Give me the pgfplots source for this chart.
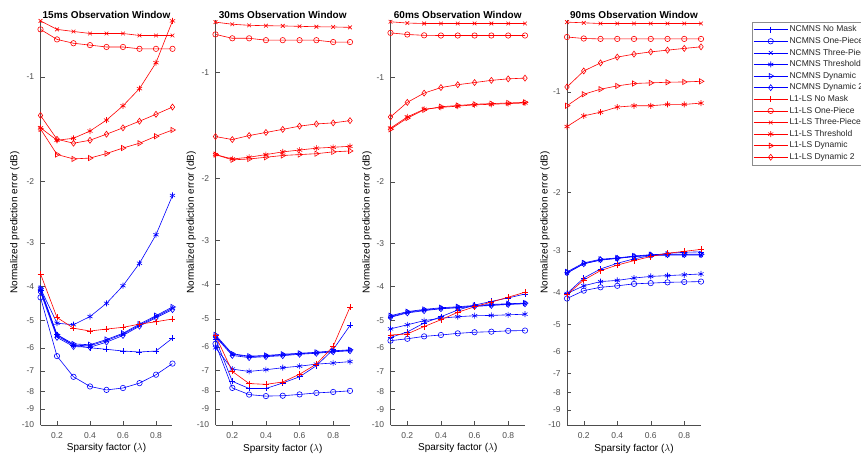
\documentclass[border=0pt]{standalone}
\usepackage{fontspec}
\setmainfont{Liberation Sans}
\usepackage{pgfplots}
\usepackage{pgfplotstable}
\pgfplotsset{compat=1.18}

% columns: lambda, then NCMNS and L1-LS series (values in dB)
\pgfplotstableread{
lam ncNo nc1P nc3P ncThr ncDyn ncDyn2 lsNo ls1P ls3P lsThr lsDyn lsDyn2
0.1 -4.10 -4.30 -4.10 -4.05 -4.05 -4.15 -3.68 -0.73 -0.69 -1.40 -1.41 -1.29
0.2 -5.50 -6.34 -5.55 -5.10 -5.50 -5.60 -4.91 -0.78 -0.73 -1.52 -1.67 -1.51
0.3 -5.90 -7.27 -5.90 -5.15 -5.85 -5.95 -5.27 -0.80 -0.74 -1.50 -1.72 -1.55
0.4 -6.00 -7.75 -5.92 -4.88 -5.88 -5.98 -5.37 -0.81 -0.75 -1.43 -1.71 -1.52
0.5 -6.06 -7.93 -5.72 -4.47 -5.68 -5.78 -5.30 -0.82 -0.75 -1.33 -1.66 -1.46
0.6 -6.13 -7.83 -5.48 -3.98 -5.45 -5.53 -5.24 -0.82 -0.75 -1.21 -1.60 -1.40
0.7 -6.17 -7.58 -5.17 -3.43 -5.13 -5.20 -5.13 -0.83 -0.76 -1.08 -1.55 -1.34
0.8 -6.13 -7.17 -4.88 -2.84 -4.85 -4.92 -5.05 -0.83 -0.76 -0.91 -1.48 -1.28
0.9 -5.63 -6.66 -4.62 -2.19 -4.58 -4.66 -4.96 -0.83 -0.76 -0.69 -1.42 -1.22
}\tabA
\pgfplotstableread{
lam ncNo nc1P nc3P ncThr ncDyn ncDyn2 lsNo ls1P ls3P lsThr lsDyn lsDyn2
0.1 -5.70 -5.88 -5.60 -6.04 -5.55 -5.62 -5.58 -0.78 -0.72 -1.71 -1.71 -1.52
0.2 -7.52 -7.85 -6.30 -6.94 -6.28 -6.35 -7.05 -0.80 -0.73 -1.76 -1.77 -1.55
0.3 -7.88 -8.20 -6.40 -7.05 -6.38 -6.44 -7.63 -0.80 -0.735 -1.74 -1.76 -1.51
0.4 -7.88 -8.28 -6.37 -6.97 -6.35 -6.40 -7.67 -0.81 -0.737 -1.71 -1.74 -1.48
0.5 -7.60 -8.26 -6.33 -6.88 -6.30 -6.36 -7.55 -0.81 -0.738 -1.68 -1.72 -1.45
0.6 -7.30 -8.19 -6.28 -6.81 -6.26 -6.30 -7.18 -0.81 -0.74 -1.66 -1.71 -1.42
0.7 -6.79 -8.11 -6.24 -6.72 -6.22 -6.26 -6.72 -0.81 -0.742 -1.64 -1.70 -1.40
0.8 -6.11 -8.06 -6.18 -6.67 -6.16 -6.20 -5.98 -0.82 -0.743 -1.63 -1.68 -1.39
0.9 -5.22 -8.00 -6.14 -6.61 -6.12 -6.16 -4.63 -0.82 -0.745 -1.62 -1.67 -1.37
}\tabB
\pgfplotstableread{
lam ncNo nc1P nc3P ncThr ncDyn ncDyn2 lsNo ls1P ls3P lsThr lsDyn lsDyn2
0.1 -5.60 -5.72 -4.88 -5.29 -4.85 -4.90 -5.51 -0.745 -0.692 -1.40 -1.41 -1.30
0.2 -5.40 -5.65 -4.74 -5.15 -4.72 -4.76 -5.47 -0.753 -0.698 -1.30 -1.31 -1.18
0.3 -5.09 -5.56 -4.67 -5.01 -4.65 -4.69 -5.21 -0.757 -0.70 -1.235 -1.24 -1.11
0.4 -4.88 -5.51 -4.62 -4.93 -4.60 -4.63 -4.98 -0.758 -0.70 -1.22 -1.215 -1.07
0.5 -4.67 -5.45 -4.59 -4.88 -4.57 -4.60 -4.74 -0.758 -0.70 -1.21 -1.205 -1.05
0.6 -4.52 -5.41 -4.55 -4.85 -4.53 -4.56 -4.57 -0.758 -0.70 -1.20 -1.195 -1.035
0.7 -4.41 -5.39 -4.52 -4.84 -4.50 -4.53 -4.43 -0.758 -0.70 -1.195 -1.19 -1.02
0.8 -4.31 -5.36 -4.49 -4.82 -4.48 -4.50 -4.29 -0.758 -0.70 -1.19 -1.185 -1.01
0.9 -4.20 -5.35 -4.47 -4.80 -4.46 -4.48 -4.15 -0.758 -0.70 -1.185 -1.18 -1.005
}\tabC
\pgfplotstableread{
lam ncNo nc1P nc3P ncThr ncDyn ncDyn2 lsNo ls1P ls3P lsThr lsDyn lsDyn2
0.1 -4.03 -4.17 -3.50 -4.03 -3.47 -3.49 -4.06 -0.684 -0.617 -1.27 -1.10 -0.966
0.2 -3.62 -3.95 -3.28 -3.82 -3.26 -3.28 -3.67 -0.691 -0.620 -1.18 -1.016 -0.865
0.3 -3.40 -3.86 -3.20 -3.71 -3.18 -3.19 -3.44 -0.693 -0.623 -1.15 -0.981 -0.818
0.4 -3.27 -3.82 -3.16 -3.68 -3.15 -3.16 -3.31 -0.693 -0.623 -1.11 -0.959 -0.786
0.5 -3.17 -3.77 -3.12 -3.62 -3.11 -3.12 -3.21 -0.693 -0.623 -1.10 -0.943 -0.770
0.6 -3.10 -3.75 -3.10 -3.58 -3.08 -3.09 -3.12 -0.693 -0.623 -1.10 -0.939 -0.758
0.7 -3.05 -3.73 -3.09 -3.56 -3.07 -3.08 -3.05 -0.693 -0.623 -1.09 -0.935 -0.749
0.8 -3.03 -3.72 -3.09 -3.54 -3.07 -3.08 -3.01 -0.693 -0.623 -1.09 -0.933 -0.740
0.9 -3.02 -3.71 -3.09 -3.52 -3.07 -3.08 -2.97 -0.693 -0.623 -1.08 -0.929 -0.732
}\tabD

\definecolor{axgray}{HTML}{4D4D4D}

\pgfplotsset{
  ncsty/.style={blue,line width=0.6pt,mark size=3pt,mark options={solid}},
  lssty/.style={red,line width=0.6pt,mark size=3pt,mark options={solid}},
  mypanel/.style={
    scale only axis,height=405pt,
    y dir=reverse,ymax=10,xmin=0.1,xmax=0.9,
    xtick={0.2,0.4,0.6,0.8},xticklabels={0.2,0.4,0.6,0.8},
    ytick={1,2,3,4,5,6,7,8,9,10},
    yticklabels={-1,-2,-3,-4,-5,-6,-7,-8,-9,-10},
    yminorticks=false,
    axis x line*=bottom,axis y line*=left,
    axis line style={axgray,line width=0.5pt,-},
    tick align=inside,major tick length=4pt,
    every tick/.style={axgray,line width=0.5pt},
    tick label style={font=\fontsize{8.5}{10}\selectfont,text=axgray},
    xticklabel style={yshift=-4pt},
    yticklabel style={xshift=-2.8pt},
    xlabel={Sparsity factor ($\lambda$)},
    ylabel={Normalized prediction error (dB)},
    label style={font=\fontsize{10}{12}\selectfont,text=black!80},
    every axis x label/.style={at={(axis description cs:0.5,-0.0642)},anchor=base},
    every axis title/.style={at={(axis description cs:0.5,1.0035)},anchor=base,
      font=\fontsize{10}{12}\selectfont\bfseries},
    clip=false,
  },
  ylpos/.style={every axis y label/.style={at={(axis description cs:#1,0.5)},rotate=90,anchor=base}},
}

\newcommand\series[1]{%
\addplot[ncsty,mark=+] table[x=lam,y expr=-\thisrow{ncNo}]{#1};
\addplot[ncsty,mark=o,mark size=2.7pt] table[x=lam,y expr=-\thisrow{nc1P}]{#1};
\addplot[ncsty,mark=x,mark size=2.6pt] table[x=lam,y expr=-\thisrow{nc3P}]{#1};
\addplot[ncsty,mark=asterisk] table[x=lam,y expr=-\thisrow{ncThr}]{#1};
\addplot[ncsty,mark=triangle,mark options={solid,rotate=-90}] table[x=lam,y expr=-\thisrow{ncDyn}]{#1};
\addplot[ncsty,mark=diamond] table[x=lam,y expr=-\thisrow{ncDyn2}]{#1};
\addplot[lssty,mark=+] table[x=lam,y expr=-\thisrow{lsNo}]{#1};
\addplot[lssty,mark=o,mark size=2.7pt] table[x=lam,y expr=-\thisrow{ls1P}]{#1};
\addplot[lssty,mark=x,mark size=2.6pt] table[x=lam,y expr=-\thisrow{ls3P}]{#1};
\addplot[lssty,mark=asterisk] table[x=lam,y expr=-\thisrow{lsThr}]{#1};
\addplot[lssty,mark=triangle,mark options={solid,rotate=-90}] table[x=lam,y expr=-\thisrow{lsDyn}]{#1};
\addplot[lssty,mark=diamond] table[x=lam,y expr=-\thisrow{lsDyn2}]{#1};
}

\begin{document}
\begin{tikzpicture}
\begin{axis}[ymode=log,mypanel,ylpos=-0.176,at={(40.5pt,29pt)},anchor=south west,width=132pt,
  ymin=0.686,title={15ms Observation Window}]
\series{\tabA}
\end{axis}
\begin{axis}[ymode=log,mypanel,ylpos=-0.16,at={(215.5pt,29pt)},anchor=south west,width=134.5pt,
  ymin=0.71,title={30ms Observation Window}]
\series{\tabB}
\end{axis}
\begin{axis}[ymode=log,mypanel,ylpos=-0.156,at={(390.5pt,29pt)},anchor=south west,width=134.5pt,
  ymin=0.684,title={60ms Observation Window}]
\series{\tabC}
\end{axis}
\begin{axis}[ymode=log,mypanel,ylpos=-0.144,at={(567pt,29pt)},anchor=south west,width=134pt,
  ymin=0.608,title={90ms Observation Window},
  legend cell align=left,
  legend style={at={(1.378,0.996)},anchor=north west,
    font=\fontsize{8.5}{10}\selectfont,text=black!85,draw=black!45,fill=white,line width=0.5pt,
    inner xsep=1.5pt,inner ysep=2pt,row sep=0pt,
    nodes={inner xsep=1.5pt,inner ysep=2pt,text height=6pt,text depth=1.6pt}},
  legend image code/.code={\draw[mark repeat=2,mark phase=2,#1]
    plot coordinates {(0pt,0pt)(17pt,0pt)(34pt,0pt)};}]
\series{\tabD}
\legend{NCMNS No Mask,NCMNS One-Piece,NCMNS Three-Piece,NCMNS Threshold,
  NCMNS Dynamic,NCMNS Dynamic 2,L1-LS No Mask,L1-LS One-Piece,
  L1-LS Three-Piece,L1-LS Threshold,L1-LS Dynamic,L1-LS Dynamic 2}
\end{axis}
\pgfresetboundingbox
\path[use as bounding box] (0,0) rectangle (861pt,454pt);
\end{tikzpicture}
\end{document}
